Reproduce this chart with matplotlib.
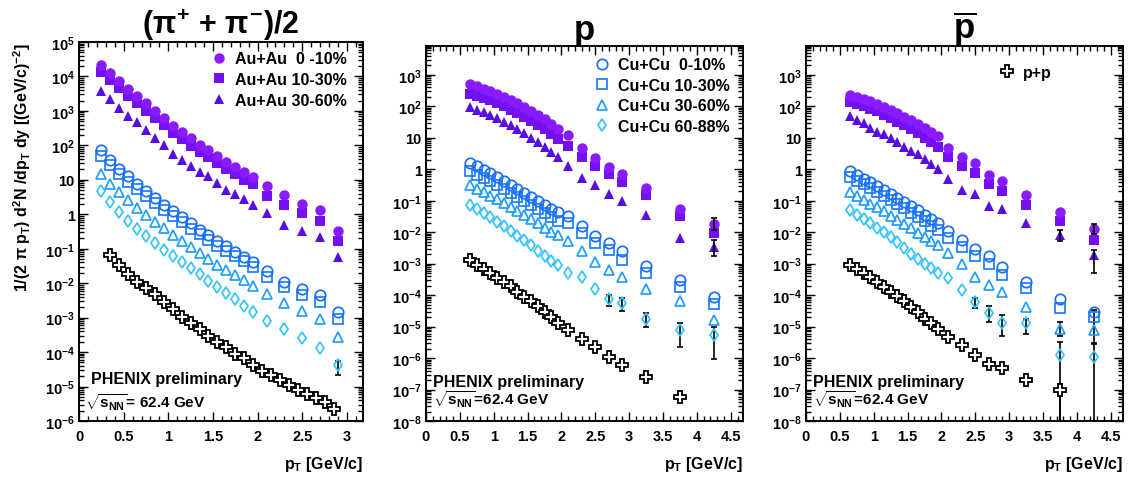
import matplotlib

matplotlib.use("Agg")

import matplotlib.pyplot as plt
import numpy as np
from matplotlib.ticker import FuncFormatter, LogLocator, MultipleLocator, NullFormatter

plt.rcParams["font.family"] = ["Liberation Sans", "DejaVu Sans"]
plt.rcParams["font.weight"] = "bold"
plt.rcParams["axes.titleweight"] = "bold"
plt.rcParams["axes.labelweight"] = "bold"
plt.rcParams["mathtext.fontset"] = "custom"
plt.rcParams["mathtext.rm"] = "Liberation Sans:bold"
plt.rcParams["mathtext.it"] = "Liberation Sans:bold"
plt.rcParams["mathtext.bf"] = "Liberation Sans:bold"

# ---------------- pions (pi+ + pi-)/2 ----------------
pi_pt = [0.25, 0.35, 0.45, 0.55, 0.65, 0.75, 0.85, 0.95, 1.05, 1.15, 1.25, 1.35,
         1.45, 1.55, 1.65, 1.75, 1.85, 1.95, 2.1, 2.3, 2.5, 2.7, 2.9]
pi_pp_pt = [0.35, 0.45, 0.55, 0.65, 0.75, 0.85, 0.95, 1.05, 1.15, 1.25, 1.35, 1.45, 1.55,
            1.65, 1.75, 1.85, 1.95, 2.05, 2.15, 2.25, 2.35, 2.45, 2.55, 2.65, 2.75, 2.85]

pi_auau_0_10 = [2.2e4, 1.3e4, 7.2e3, 4.4e3, 2.8e3, 1.7e3, 1.0e3, 630, 370, 240, 160, 105,
                74, 49, 32, 23, 17, 12, 6.8, 3.7, 2.0, 1.35, 0.33]
pi_auau_10_30 = [1.35e4, 7.9e3, 4.5e3, 2.7e3, 1.7e3, 1.0e3, 630, 380, 230, 150, 98, 65,
                 46, 30, 20, 14.5, 10, 7.6, 3.5, 1.9, 1.1, 0.65, 0.17]
pi_auau_30_60 = [3.9e3, 2.2e3, 1.2e3, 720, 480, 280, 166, 102, 56, 38, 26, 17,
                 13, 8.1, 5.1, 3.9, 2.8, 1.9, 1.1, 0.50, 0.33, 0.22, 0.059]
pi_cucu_0_10 = [72, 38, 21, 12.6, 7.6, 4.7, 2.9, 1.9, 1.23, 0.81, 0.54, 0.36,
                0.245, 0.166, 0.117, 0.083, 0.059, 0.042, 0.023, 0.011, 0.0069, 0.0044, 0.0015]
pi_cucu_10_30 = [50, 27, 15, 8.9, 5.4, 3.3, 2.1, 1.35, 0.87, 0.58, 0.38, 0.26,
                 0.174, 0.12, 0.085, 0.060, 0.043, 0.030, 0.0155, 0.0079, 0.0044, 0.0029, 9.3e-4]
pi_cucu_30_60 = [15, 7.8, 4.4, 2.6, 1.55, 0.95, 0.60, 0.39, 0.25, 0.166, 0.11, 0.074,
                 0.050, 0.034, 0.024, 0.017, 0.012, 0.0085, 0.0047, 0.0027, 0.0016, 9.3e-4, 2.8e-4]
pi_cucu_60_88 = [4.8, 2.3, 1.15, 0.63, 0.37, 0.23, 0.145, 0.093, 0.062, 0.041, 0.027, 0.018,
                 0.0117, 0.0078, 0.0051, 0.0034, 0.0022, 0.0015, 8.1e-4, 4.8e-4, 2.6e-4, 1.35e-4, 4.1e-5]
pi_pp = [6.5e-2, 3.3e-2, 1.8e-2, 1.1e-2, 7.2e-3, 4.7e-3, 2.8e-3, 1.8e-3, 1.05e-3, 6.8e-4,
         4.6e-4, 3.0e-4, 1.9e-4, 1.4e-4, 9.1e-5, 6.8e-5, 4.2e-5, 2.8e-5, 2.1e-5, 1.5e-5,
         1.1e-5, 7.8e-6, 5.9e-6, 4.5e-6, 3.5e-6, 2.3e-6]
pi_errors = [(2.9, 2.1e-5, 5.6e-5)]

# ---------------- protons ----------------
p_pt = [0.65, 0.75, 0.85, 0.95, 1.05, 1.15, 1.25, 1.35, 1.45, 1.55, 1.65, 1.75, 1.85, 1.95,
        2.1, 2.3, 2.5, 2.7, 2.9, 3.25, 3.75, 4.25]
p_pp_pt = [0.65, 0.75, 0.85, 0.95, 1.05, 1.15, 1.25, 1.35, 1.45, 1.55, 1.65, 1.75, 1.85, 1.95,
           2.1, 2.3, 2.5, 2.7, 2.9, 3.25, 3.75]

p_auau_0_10 = [500, 440, 370, 310, 250, 200, 160, 126, 95, 72, 54, 39, 28, 19.5,
               12, 4.9, 2.3, 1.2, 0.69, 0.26, 0.055, 0.018]
p_auau_10_30 = [245, 220, 186, 155, 126, 100, 79, 62, 47, 35, 26, 18.6, 13.2, 9.3,
                5.5, 2.5, 1.3, 0.69, 0.39, 0.148, 0.032, 0.0093]
p_auau_30_60 = [93, 79, 66, 54, 43, 33, 25, 19, 14, 10.2, 7.2, 5.1, 3.5, 2.4,
                1.26, 0.54, 0.31, 0.17, 0.095, 0.036, 0.0065, 0.0035]
p_cucu_0_10 = [1.6, 1.23, 0.95, 0.74, 0.58, 0.44, 0.32, 0.24, 0.178, 0.132, 0.098, 0.072, 0.055, 0.043,
               0.032, 0.0155, 0.0078, 0.0045, 0.0026, 8.5e-4, 3.0e-4, 8.5e-5]
p_cucu_10_30 = [0.87, 0.68, 0.52, 0.41, 0.32, 0.24, 0.178, 0.132, 0.098, 0.072, 0.054, 0.040, 0.030, 0.023,
                0.019, 0.0093, 0.0047, 0.0028, 0.0013, 5.2e-4, 1.8e-4, 5.4e-5]
p_cucu_30_60 = [0.31, 0.24, 0.186, 0.145, 0.112, 0.085, 0.063, 0.047, 0.035, 0.026, 0.019, 0.014, 0.0105, 0.0079,
                0.0052, 0.0026, 0.00117, 6.3e-4, 3.9e-4, 1.6e-4, 6.6e-5, 1.6e-5]
p_cucu_60_88 = [0.076, 0.056, 0.041, 0.030, 0.021, 0.0155, 0.011, 0.0078, 0.0055, 0.0038, 0.0026, 0.0018, 0.00126, 8.9e-4,
                5.0e-4, 3.7e-4, 1.55e-4, 7.4e-5, 5.5e-5, 1.8e-5, 7.6e-6, 5.4e-6]
p_pp = [1.3e-3, 9.1e-4, 6.6e-4, 5.0e-4, 3.6e-4, 2.7e-4, 1.9e-4, 1.3e-4, 8.9e-5, 6.5e-5, 4.5e-5, 3.0e-5, 1.95e-5, 1.3e-5,
        7.8e-6, 3.9e-6, 2.2e-6, 1.07e-6, 6.2e-7, 2.5e-7, 5.6e-8]
p_errors = [(4.25, 1.8e-3, 5.8e-3), (4.25, 0.012, 0.029), (2.7, 4.5e-5, 1.0e-4), (2.9, 3.2e-5, 7.9e-5),
            (3.25, 1.0e-5, 2.8e-5), (3.75, 2.2e-6, 1.3e-5), (4.25, 9.5e-7, 1.0e-5), (3.75, 3.9e-8, 7.6e-8)]

# ---------------- antiprotons ----------------
pbar_auau_0_10 = [235, 205, 175, 145, 118, 95, 76, 60, 47, 36, 27.5, 21, 15.5, 11.5,
                  4.9, 2.5, 1.55, 0.65, 0.42, 0.148, 0.043, 0.0126]
pbar_auau_10_30 = [141, 123, 102, 85, 69, 55, 43, 33, 25, 19, 14, 10.2, 7.2, 5.0,
                   2.4, 1.26, 0.76, 0.33, 0.21, 0.076, 0.022, 0.0055]
pbar_auau_30_60 = [48, 37, 30, 21, 15.8, 13.2, 10.2, 7.6, 5.2, 3.9, 3.0, 2.2, 1.5, 1.02,
                   0.51, 0.22, 0.166, 0.069, 0.054, 0.019, 0.0083, 0.0019]
pbar_cucu_0_10 = [0.89, 0.68, 0.51, 0.39, 0.30, 0.22, 0.166, 0.123, 0.091, 0.068, 0.050, 0.036, 0.026, 0.019,
                  0.0107, 0.0058, 0.0029, 0.0017, 8.1e-4, 2.7e-4, 7.4e-5, 3.0e-5]
pbar_cucu_10_30 = [0.58, 0.44, 0.33, 0.25, 0.19, 0.141, 0.105, 0.078, 0.058, 0.042, 0.030, 0.022, 0.0158, 0.0115,
                   0.0065, 0.0035, 0.0017, 0.0010, 4.4e-4, 1.66e-4, 3.8e-5, 2.0e-5]
pbar_cucu_30_60 = [0.186, 0.141, 0.107, 0.081, 0.062, 0.046, 0.034, 0.025, 0.018, 0.0132, 0.0095, 0.0069, 0.0052, 0.0040,
                   0.0022, 0.0010, 3.9e-4, 2.1e-4, 1.29e-4, 4.3e-5, 8.1e-6, 7.6e-6]
pbar_cucu_60_88 = [0.050, 0.036, 0.026, 0.019, 0.0138, 0.010, 0.0071, 0.0048, 0.0032, 0.0021, 0.0014, 0.0010, 7.1e-4, 5.0e-4,
                   3.5e-4, 1.45e-4, 6.0e-5, 2.8e-5, 1.3e-5, 1.26e-5, 1.23e-6, 1.12e-6]
pbar_pp = [9.1e-4, 6.6e-4, 5.0e-4, 3.7e-4, 2.7e-4, 1.86e-4, 1.29e-4, 9.3e-5, 6.6e-5, 4.3e-5, 3.0e-5, 1.8e-5, 1.26e-5, 8.1e-6,
           4.7e-6, 2.6e-6, 1.23e-6, 6.3e-7, 4.9e-7, 1.95e-7, 9.8e-8]
pbar_errors = [(3.75, 5.1e-3, 0.012), (4.25, 5.0e-4, 2.75e-3), (4.25, 0.009, 0.0186), (2.5, 3.8e-5, 7.9e-5),
               (2.7, 1.45e-5, 4.4e-5), (2.9, 4.9e-6, 2.3e-5), (3.25, 6.0e-6, 1.8e-5), (3.75, 1e-9, 3.2e-6),
               (4.25, 1e-9, 2.9e-6), (3.75, 1e-9, 1.45e-7), (3.75, 5e-6, 1.4e-5), (4.25, 3e-6, 3.3e-5)]

AUAU_LABELS = ["Au+Au  0 -10%", "Au+Au 10-30%", "Au+Au 30-60%"]
CUCU_LABELS = ["Cu+Cu  0-10%", "Cu+Cu 10-30%", "Cu+Cu 30-60%", "Cu+Cu 60-88%"]

AUAU_STYLE = [("o", "#8a1aff", 7.5), ("s", "#7510f0", 7.0), ("^", "#580ee0", 7.0)]
CUCU_STYLE = [("o", "#1a6ffa", 7.5), ("s", "#1d7cfc", 7.0), ("^", "#1f9cff", 7.5), ("d", "#35c3ff", 6.5)]

W, H = 1134, 481


def _log_label(v, pos):
    e = int(round(np.log10(v)))
    if e == 0:
        return "1"
    if e == 1:
        return "10"
    return r"$10^{%d}$" % e


def _draw_panel(ax, pt, auau, cucu, pp_pt, pp, errors, xmax, ymin, ymax):
    for (vals, (m, c, ms)) in zip(auau[::-1], AUAU_STYLE[::-1]):
        ax.plot(pt, vals, linestyle="none", marker=m, color=c, markersize=ms,
                markeredgewidth=0, zorder=3)
    for lo_hi in errors:
        x, lo, hi = lo_hi
        ax.vlines(x, lo, hi, color="black", linewidth=1.2, zorder=4)
        ax.plot([x, x], [lo, hi], linestyle="none", marker="_", color="black",
                markersize=5, markeredgewidth=1.2, zorder=4)
    for (vals, (m, c, ms)) in zip(cucu[::-1], CUCU_STYLE[::-1]):
        ax.plot(pt, vals, linestyle="none", marker=m, markerfacecolor="none",
                markeredgecolor=c, markersize=ms, markeredgewidth=1.25, zorder=5)
    ax.plot(pp_pt, pp, linestyle="none", marker="P", markerfacecolor="white",
            markeredgecolor="black", markersize=8, markeredgewidth=1.3, zorder=6)

    ax.set_yscale("log")
    ax.set_xlim(0, xmax)
    ax.set_ylim(ymin, ymax)
    ax.xaxis.set_major_locator(MultipleLocator(0.5))
    ax.xaxis.set_minor_locator(MultipleLocator(0.1))
    ax.xaxis.set_major_formatter(FuncFormatter(lambda v, p: "%g" % v))
    ax.yaxis.set_major_locator(LogLocator(base=10, numticks=30))
    ax.yaxis.set_minor_locator(LogLocator(base=10, subs=np.arange(2, 10), numticks=30))
    ax.yaxis.set_major_formatter(FuncFormatter(_log_label))
    ax.yaxis.set_minor_formatter(NullFormatter())
    ax.tick_params(which="both", direction="in", top=True, right=True, labelsize=10.5, width=1.0)
    ax.tick_params(which="major", length=6.5)
    ax.tick_params(which="minor", length=3.5)
    ax.tick_params(axis="x", pad=6)
    ax.tick_params(axis="y", pad=3)
    for s in ax.spines.values():
        s.set_linewidth(1.4)
    ax.set_xlabel(r"p$_{T}$ [GeV/c]", loc="right", fontsize=11.5, labelpad=8)


fig = plt.figure(figsize=(W / 100, H / 100), dpi=100)

ax1 = fig.add_axes([79 / W, 1 - 422 / H, 284 / W, 379 / H])
ax2 = fig.add_axes([426 / W, 1 - 422 / H, 317 / W, 375 / H])
ax3 = fig.add_axes([806 / W, 1 - 422 / H, 317 / W, 375 / H])

_draw_panel(ax1, pi_pt, [pi_auau_0_10, pi_auau_10_30, pi_auau_30_60],
            [pi_cucu_0_10, pi_cucu_10_30, pi_cucu_30_60, pi_cucu_60_88],
            pi_pp_pt, pi_pp, pi_errors, 3.18, 1e-6, 1e5)
_draw_panel(ax2, p_pt, [p_auau_0_10, p_auau_10_30, p_auau_30_60],
            [p_cucu_0_10, p_cucu_10_30, p_cucu_30_60, p_cucu_60_88],
            p_pp_pt, p_pp, p_errors, 4.68, 1e-8, 8.3e3)
_draw_panel(ax3, p_pt, [pbar_auau_0_10, pbar_auau_10_30, pbar_auau_30_60],
            [pbar_cucu_0_10, pbar_cucu_10_30, pbar_cucu_30_60, pbar_cucu_60_88],
            p_pp_pt, pbar_pp, pbar_errors, 4.68, 1e-8, 8.3e3)

ax1.set_title(r"($\pi^{+}$ + $\pi^{-}$)/2", fontsize=22, pad=4)
ax2.set_title("p", fontsize=25, pad=5)
ax3.set_title(r"$\overline{\mathrm{p}}$", fontsize=25, pad=5)

fig.text(22 / W, 1 - 168 / H, r"1/(2 $\pi$ p$_{T}$) d$^{2}$N /dp$_{T}$ dy [(GeV/c)$^{-2}$]",
         rotation=90, ha="center", va="center", fontsize=11.5)

# legends (built from proxy handles)
h_auau = [plt.Line2D([], [], linestyle="none", marker=m, color=c, markersize=ms, markeredgewidth=0)
          for m, c, ms in AUAU_STYLE]
ax1.legend(h_auau, AUAU_LABELS, loc="upper left", bbox_to_anchor=(0.465, 0.975), frameon=False,
           borderaxespad=0, borderpad=0, handlelength=1.0, handletextpad=0.5, labelspacing=0.35,
           fontsize=11.5)
h_cucu = [plt.Line2D([], [], linestyle="none", marker=m, markerfacecolor="none", markeredgecolor=c,
                     markersize=ms, markeredgewidth=1.25) for m, c, ms in CUCU_STYLE]
ax2.legend(h_cucu, CUCU_LABELS, loc="upper left", bbox_to_anchor=(0.53, 0.97), frameon=False,
           borderaxespad=0, borderpad=0, handlelength=1.0, handletextpad=0.5, labelspacing=0.35,
           fontsize=11.5)
h_pp = [plt.Line2D([], [], linestyle="none", marker="P", markerfacecolor="white", markeredgecolor="black",
                   markersize=8, markeredgewidth=1.3)]
ax3.legend(h_pp, ["p+p"], loc="upper left", bbox_to_anchor=(0.61, 0.95), frameon=False,
           borderaxespad=0, borderpad=0, handlelength=1.0, handletextpad=0.5, fontsize=11.5)

ax1.text(0.042, 0.111, "PHENIX preliminary", transform=ax1.transAxes, fontsize=11.5, va="center")
ax1.text(0.02, 0.05, r"$\sqrt{s_{NN}}$= 62.4 GeV", transform=ax1.transAxes, fontsize=11, va="center")
for ax in (ax2, ax3):
    ax.text(0.022, 0.104, "PHENIX preliminary", transform=ax.transAxes, fontsize=11.5, va="center")
    ax.text(0.022, 0.059, r"$\sqrt{s_{NN}}$=62.4 GeV", transform=ax.transAxes, fontsize=11, va="center")

fig.savefig("out.png", dpi=100)
